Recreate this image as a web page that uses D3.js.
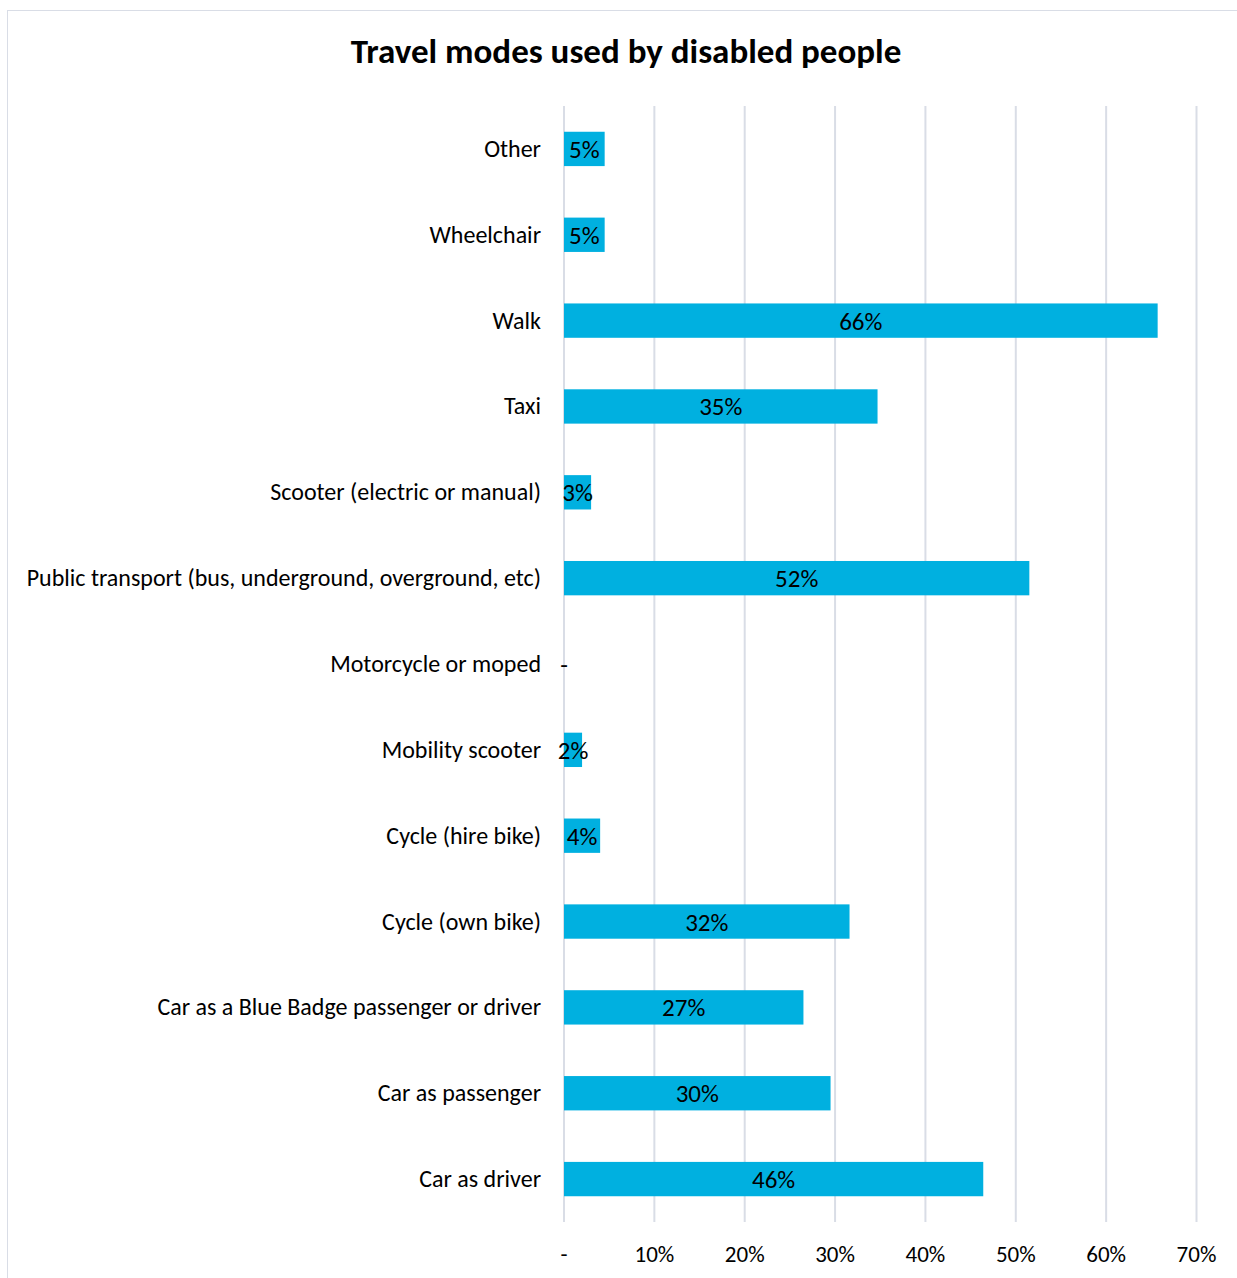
<!DOCTYPE html>
<html>
<head>
<meta charset="utf-8">
<script src="https://cdn.jsdelivr.net/npm/d3@7"></script>
<style>
  html, body { margin: 0; padding: 0; background: #fff; }
  svg { display: block; }
  text { font-family: Carlito, Calibri, Lato, "Noto Sans", sans-serif; fill: #000; }
</style>
</head>
<body>
<svg id="chart" width="1237" height="1278"></svg>
<script>
const categories = [
  "Other",
  "Wheelchair",
  "Walk",
  "Taxi",
  "Scooter (electric or manual)",
  "Public transport (bus, underground, overground, etc)",
  "Motorcycle or moped",
  "Mobility scooter",
  "Cycle (hire bike)",
  "Cycle (own bike)",
  "Car as a Blue Badge passenger or driver",
  "Car as passenger",
  "Car as driver"
];
const values = [4.5, 4.5, 65.7, 34.7, 3.0, 51.5, 0, 2.0, 4.0, 31.6, 26.5, 29.5, 46.4];
const tickValues = [0, 10, 20, 30, 40, 50, 60, 70];
const tickLabels = ["-", "10%", "20%", "30%", "40%", "50%", "60%", "70%"];
const chartTitle = "Travel modes used by disabled people";

(function () {
const svg = d3.select("#chart");
const W = 1237, H = 1278;

// frame
svg.append("rect")
  .attr("x", 7.5).attr("y", 10.5)
  .attr("width", W).attr("height", H)
  .attr("fill", "none").attr("stroke", "#d9dde6").attr("stroke-width", 1);

const pLeft = 564, pRight = 1196.5, pTop = 106, pBottom = 1222;

const x = d3.scaleLinear().domain([0, 70]).range([pLeft, pRight]);
const y = d3.scaleBand().domain(categories).range([pTop, pBottom]).paddingInner(0.6).paddingOuter(0.3);

// title
svg.append("text")
  .attr("x", 626).attr("y", 63)
  .attr("text-anchor", "middle")
  .style("font-size", "35px").style("font-weight", "bold")
  .text(chartTitle);

// gridlines
svg.append("g").selectAll("line").data(tickValues).join("line")
  .attr("x1", d => x(d)).attr("x2", d => x(d))
  .attr("y1", pTop).attr("y2", pBottom)
  .attr("stroke", "#d9dde6").attr("stroke-width", 2);

// x tick labels
svg.append("g").selectAll("text").data(tickValues).join("text")
  .attr("x", d => x(d)).attr("y", 1262)
  .attr("text-anchor", "middle")
  .style("font-size", "23px")
  .text((d, i) => tickLabels[i]);

// bars
svg.append("g").selectAll("rect").data(values).join("rect")
  .attr("x", x(0))
  .attr("y", (d, i) => y(categories[i]))
  .attr("width", d => x(d) - x(0))
  .attr("height", y.bandwidth())
  .attr("fill", "#00b0e0");

// data labels
svg.append("g").selectAll("text").data(values).join("text")
  .attr("x", d => (x(0) + x(d)) / 2)
  .attr("y", (d, i) => y(categories[i]) + y.bandwidth() / 2 + 9)
  .attr("text-anchor", "middle")
  .style("font-size", "25px")
  .text(d => d === 0 ? "-" : Math.round(d) + "%");

// category labels
svg.append("g").selectAll("text").data(categories).join("text")
  .attr("x", 541)
  .attr("y", d => y(d) + y.bandwidth() / 2 + 8)
  .attr("text-anchor", "end")
  .style("font-size", "24px")
  .text(d => d);
})();
</script>
</body>
</html>
